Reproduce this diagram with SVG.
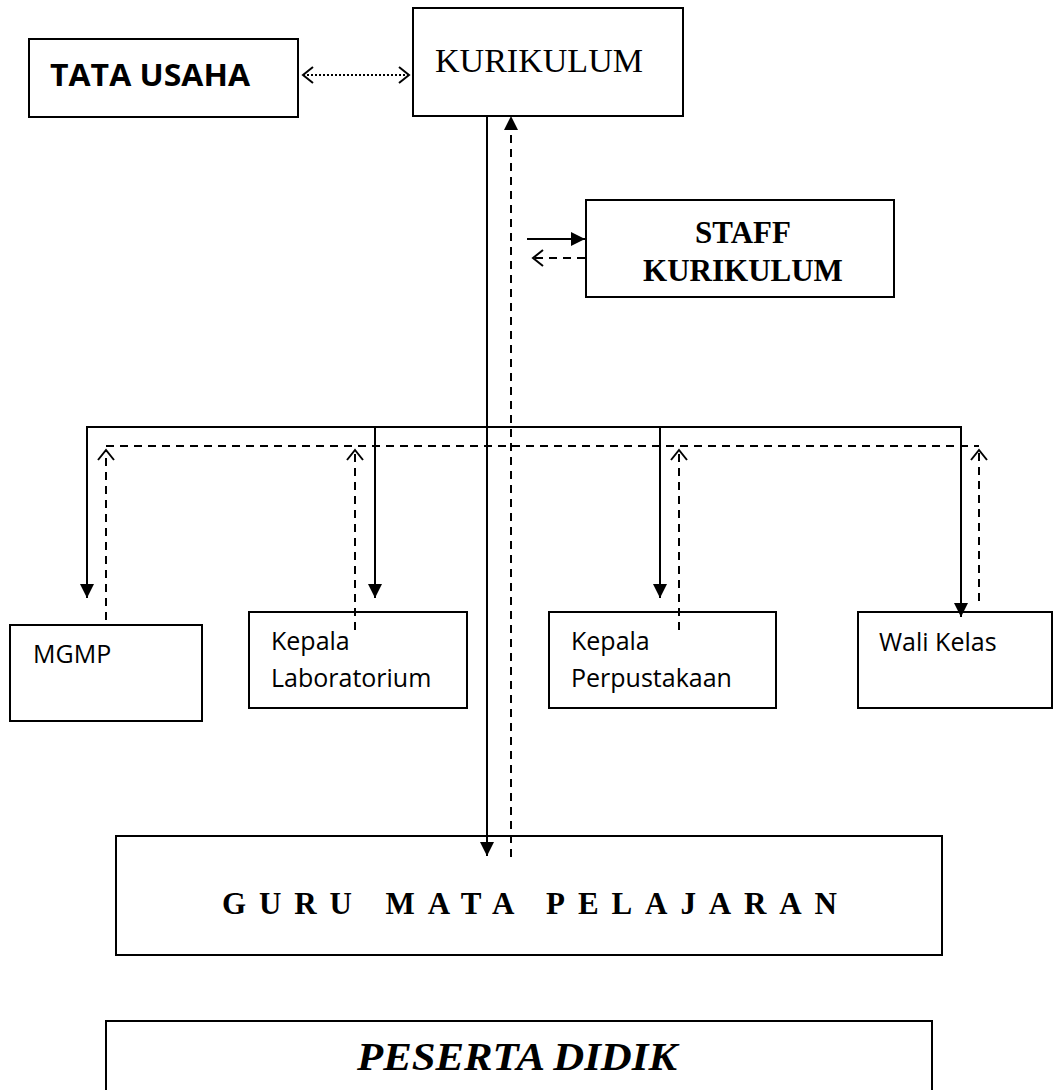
<svg xmlns="http://www.w3.org/2000/svg" width="1054" height="1090" viewBox="0 0 1054 1090">
<style>
.box{fill:#fff;stroke:#000;stroke-width:2}
.ln{fill:none;stroke:#000;stroke-width:2}
.dash{fill:none;stroke:#000;stroke-width:2;stroke-dasharray:8 6}
.dot{fill:none;stroke:#000;stroke-width:2;stroke-dasharray:2 2}
.sans{font-family:"Open Sans","Liberation Sans",sans-serif;font-size:25px;fill:#000}
.serif{font-family:"Liberation Serif","Times New Roman",serif;fill:#000}
</style>
<defs>
<marker id="fill" markerUnits="userSpaceOnUse" markerWidth="14" markerHeight="14" refX="14" refY="7" orient="auto-start-reverse" viewBox="0 0 14 14">
<path d="M0,0 L14,7 L0,14 z" fill="#000"/>
</marker>
<marker id="open" markerUnits="userSpaceOnUse" markerWidth="14" markerHeight="18" refX="11" refY="9" orient="auto-start-reverse" viewBox="0 0 14 18">
<path d="M1,1 L11,9 L1,17" fill="none" stroke="#000" stroke-width="2"/>
</marker>
</defs>

<g id="tata-usaha">
<rect class="box" x="29" y="39" width="269" height="78"/>
<text x="50" y="86" font-family="'Open Sans','Liberation Sans',sans-serif" font-weight="bold" font-size="31" textLength="200" lengthAdjust="spacingAndGlyphs">TATA USAHA</text>
</g>

<g id="kurikulum">
<rect class="box" x="413" y="8" width="270" height="108"/>
<text class="serif" x="435" y="72" font-size="34" textLength="208" lengthAdjust="spacingAndGlyphs">KURIKULUM</text>
</g>

<g id="staff-kurikulum">
<rect class="box" x="586" y="200" width="308" height="97"/>
<text class="serif" x="743" y="243" font-size="31" font-weight="bold" text-anchor="middle">STAFF</text>
<text class="serif" x="743" y="281" font-size="31" font-weight="bold" text-anchor="middle">KURIKULUM</text>
</g>

<g id="mgmp">
<rect class="box" x="10" y="625" width="192" height="96"/>
<text class="sans" x="33" y="663">MGMP</text>
</g>

<g id="kepala-laboratorium">
<rect class="box" x="249" y="612" width="218" height="96"/>
<text class="sans" x="271" y="650">Kepala</text>
<text class="sans" x="271" y="687">Laboratorium</text>
</g>

<g id="kepala-perpustakaan">
<rect class="box" x="549" y="612" width="227" height="96"/>
<text class="sans" x="571" y="650">Kepala</text>
<text class="sans" x="571" y="687">Perpustakaan</text>
</g>

<g id="wali-kelas">
<rect class="box" x="858" y="612" width="194" height="96"/>
<text class="sans" x="879" y="651">Wali Kelas</text>
</g>

<g id="guru-mata-pelajaran">
<rect class="box" x="116" y="836" width="826" height="119"/>
<text class="serif" x="222" y="914" font-size="31" font-weight="bold" textLength="615" lengthAdjust="spacing">GURU MATA PELAJARAN</text>
</g>

<g id="peserta-didik">
<rect class="box" x="106" y="1021" width="826" height="100"/>
<text class="serif" x="357" y="1070" font-size="39" font-weight="bold" font-style="italic" textLength="320" lengthAdjust="spacingAndGlyphs">PESERTA DIDIK</text>
</g>

<g id="connectors">
<!-- TATA USAHA <-> KURIKULUM -->
<path class="dot" d="M303,75 H409" marker-start="url(#open)" marker-end="url(#open)"/>
<!-- central solid down -->
<path class="ln" d="M487,116 V856" marker-end="url(#fill)"/>
<!-- central dashed up -->
<path class="dash" d="M511,857 V116" marker-end="url(#fill)"/>
<!-- staff arrows -->
<path class="ln" d="M527,239 H585" marker-end="url(#fill)"/>
<path class="dash" d="M585,258 H533" marker-end="url(#open)"/>
<!-- solid bus and drops -->
<path class="ln" d="M87,427 H961"/>
<path class="ln" d="M87,426 V598" marker-end="url(#fill)"/>
<path class="ln" d="M375,427 V598" marker-end="url(#fill)"/>
<path class="ln" d="M660,427 V598" marker-end="url(#fill)"/>
<path class="ln" d="M961,426 V617" marker-end="url(#fill)"/>
<!-- dashed bus and ups -->
<path class="dash" d="M106,446 H979"/>
<path class="dash" d="M106,620 V450" marker-end="url(#open)"/>
<path class="dash" d="M355,630 V450" marker-end="url(#open)"/>
<path class="dash" d="M679,630 V450" marker-end="url(#open)"/>
<path class="dash" d="M979,601 V450" marker-end="url(#open)"/>
</g>
</svg>
